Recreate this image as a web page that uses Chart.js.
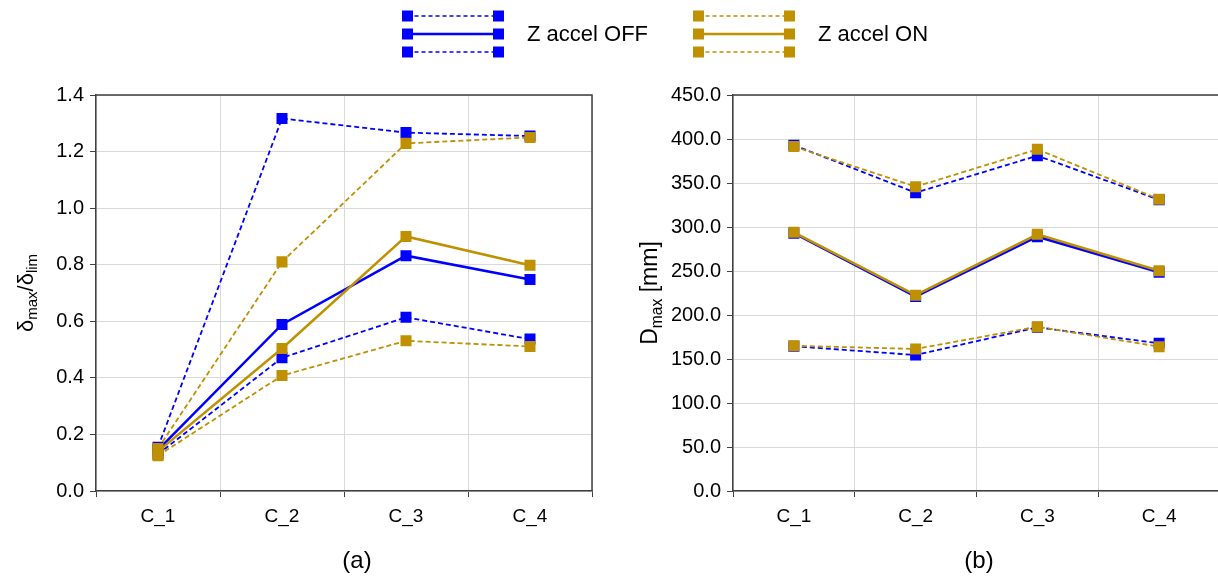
<!DOCTYPE html>
<html>
<head>
<meta charset="utf-8">
<script src="https://cdn.jsdelivr.net/npm/chart.js@4.4.1/dist/chart.umd.min.js"></script>
<style>
  body { margin: 0; background: #fff; font-family: "Liberation Sans", Arial, sans-serif; }
  #wrap { position: relative; width: 1218px; height: 579px; overflow: hidden; }
  canvas.chart { position: absolute; top: 0; }
  .glyph { position: absolute; top: 8px; }
  .ltext { position: absolute; top: 20px; font-size: 22px; color: #000; line-height: 28px; }
</style>
</head>
<body>
<div id="wrap">
  <canvas id="chart-a" class="chart" width="609" height="579" style="left:0"></canvas>
  <canvas id="chart-b" class="chart" width="622" height="579" style="left:609px"></canvas>
  <canvas id="glyph-off" class="glyph" width="114" height="52" style="left:396px"></canvas>
  <div class="ltext" style="left:527px">Z accel OFF</div>
  <canvas id="glyph-on" class="glyph" width="114" height="52" style="left:687px"></canvas>
  <div class="ltext" style="left:818px">Z accel ON</div>
</div>
<script>
// Data
const categories = ['C_1', 'C_2', 'C_3', 'C_4'];

// (a) delta_max / delta_lim
const offUpperA = [0.155, 1.317, 1.267, 1.255];
const offMidA   = [0.145, 0.589, 0.832, 0.748];
const offLowA   = [0.130, 0.471, 0.614, 0.537];
const onUpperA  = [0.150, 0.810, 1.229, 1.250];
const onMidA    = [0.140, 0.504, 0.900, 0.798];
const onLowA    = [0.125, 0.408, 0.531, 0.511];

// (b) D_max [mm]
const offUpperB = [393.0, 339.0, 381.0, 331.0];
const offMidB   = [293.0, 221.0, 289.0, 248.5];
const offLowB   = [164.5, 154.5, 186.0, 167.8];
const onUpperB  = [391.5, 345.8, 388.3, 331.5];
const onMidB    = [294.0, 222.5, 291.7, 250.3];
const onLowB    = [165.0, 161.4, 186.7, 164.0];

const BLUE = '#0000ff';
const GOLD = '#bf9000';
const AXIS = '#404040';
const GRID = '#d9d9d9';
const FONT = '"Liberation Sans", Arial, sans-serif';

function series(data, color, dashed) {
    return {
        data: data,
        borderColor: color,
        backgroundColor: color,
        borderWidth: dashed ? 1.8 : 2.5,
        borderDash: dashed ? [5, 3] : [],
        pointStyle: 'rect',
        pointRadius: 7.8,
        pointHoverRadius: 7.8,
        pointBorderWidth: 0,
        tension: 0
    };
}

// draw text with subscripts, rotated, centred on (cx, cy)
function drawRich(ctx, parts, cx, cy, size) {
    ctx.save();
    ctx.translate(cx, cy);
    ctx.rotate(-Math.PI / 2);
    ctx.fillStyle = '#000';
    ctx.textBaseline = 'alphabetic';
    let total = 0;
    parts.forEach(p => {
        ctx.font = (p.sub ? size * 0.68 : size) + 'px ' + FONT;
        p.w = ctx.measureText(p.t).width;
        total += p.w;
    });
    let x = -total / 2;
    parts.forEach(p => {
        ctx.font = (p.sub ? size * 0.68 : size) + 'px ' + FONT;
        ctx.fillText(p.t, x, p.sub ? size * 0.55 : size * 0.35);
        x += p.w;
    });
    ctx.restore();
}

function framePlugin(titleParts, titleX, titleSize, caption, captionX) {
    return {
        id: 'frame',
        afterDraw(chart) {
            const ctx = chart.ctx;
            const a = chart.chartArea;
            ctx.save();
            ctx.strokeStyle = AXIS;
            ctx.lineWidth = 1.5;
            ctx.beginPath();
            ctx.moveTo(a.left, a.top);
            ctx.lineTo(a.right, a.top);
            ctx.lineTo(a.right, a.bottom);
            ctx.stroke();
            ctx.restore();
            drawRich(ctx, titleParts, titleX, (a.top + a.bottom) / 2, titleSize);
            ctx.save();
            ctx.font = '24px ' + FONT;
            ctx.fillStyle = '#000';
            ctx.textAlign = 'center';
            ctx.textBaseline = 'middle';
            ctx.fillText(caption, captionX, 561);
            ctx.restore();
        }
    };
}

function makeChart(id, sets, yMax, yStep, yWidth, padRight, plugin) {
    return new Chart(document.getElementById(id).getContext('2d'), {
        type: 'line',
        data: {
            labels: categories,
            // gold first so it is drawn on top of blue
            datasets: [
                series(sets[3], GOLD, true),
                series(sets[4], GOLD, false),
                series(sets[5], GOLD, true),
                series(sets[0], BLUE, true),
                series(sets[1], BLUE, false),
                series(sets[2], BLUE, true)
            ]
        },
        options: {
            responsive: false,
            animation: false,
            devicePixelRatio: 1,
            layout: { padding: { top: 95, right: padRight, bottom: 0, left: 0 } },
            plugins: { legend: { display: false }, tooltip: { enabled: false } },
            scales: {
                x: {
                    offset: true,
                    grid: { offset: true, color: GRID, lineWidth: 1, tickColor: AXIS, tickLength: 6 },
                    border: { color: AXIS, width: 1.5 },
                    ticks: { color: '#000', font: { family: FONT, size: 19 }, padding: 8, maxRotation: 0 },
                    afterFit(scale) { scale.height = 88; }
                },
                y: {
                    min: 0,
                    max: yMax,
                    grid: { color: GRID, lineWidth: 1, tickColor: AXIS, tickLength: 6 },
                    border: { color: AXIS, width: 1.5 },
                    ticks: {
                        stepSize: yStep,
                        color: '#000',
                        font: { family: FONT, size: 20 },
                        padding: 6,
                        callback: v => Number(v).toFixed(1)
                    },
                    afterFit(scale) { scale.width = yWidth; }
                }
            }
        },
        plugins: [plugin]
    });
}

makeChart('chart-a',
    [offUpperA, offMidA, offLowA, onUpperA, onMidA, onLowA],
    1.4, 0.2, 96, 17,
    framePlugin([{ t: 'δ' }, { t: 'max', sub: true }, { t: '/δ' }, { t: 'lim', sub: true }], 25, 22, '(a)', 357));

makeChart('chart-b',
    [offUpperB, offMidB, offLowB, onUpperB, onMidB, onLowB],
    450, 50, 124, 11,
    framePlugin([{ t: 'D' }, { t: 'max', sub: true }, { t: ' [mm]' }], 40, 23, '(b)', 370));

// Legend glyphs: dashed / solid / dashed line with square ends
function drawGlyph(id, color) {
    const ctx = document.getElementById(id).getContext('2d');
    const rows = [8, 26, 44];
    rows.forEach((y, i) => {
        ctx.strokeStyle = color;
        ctx.lineWidth = i === 1 ? 2.5 : 1.5;
        ctx.setLineDash(i === 1 ? [] : [4, 3]);
        ctx.beginPath();
        ctx.moveTo(11.5, y);
        ctx.lineTo(102.5, y);
        ctx.stroke();
        ctx.fillStyle = color;
        ctx.fillRect(6, y - 5.5, 11, 11);
        ctx.fillRect(97, y - 5.5, 11, 11);
    });
}
drawGlyph('glyph-off', BLUE);
drawGlyph('glyph-on', GOLD);
</script>
</body>
</html>
